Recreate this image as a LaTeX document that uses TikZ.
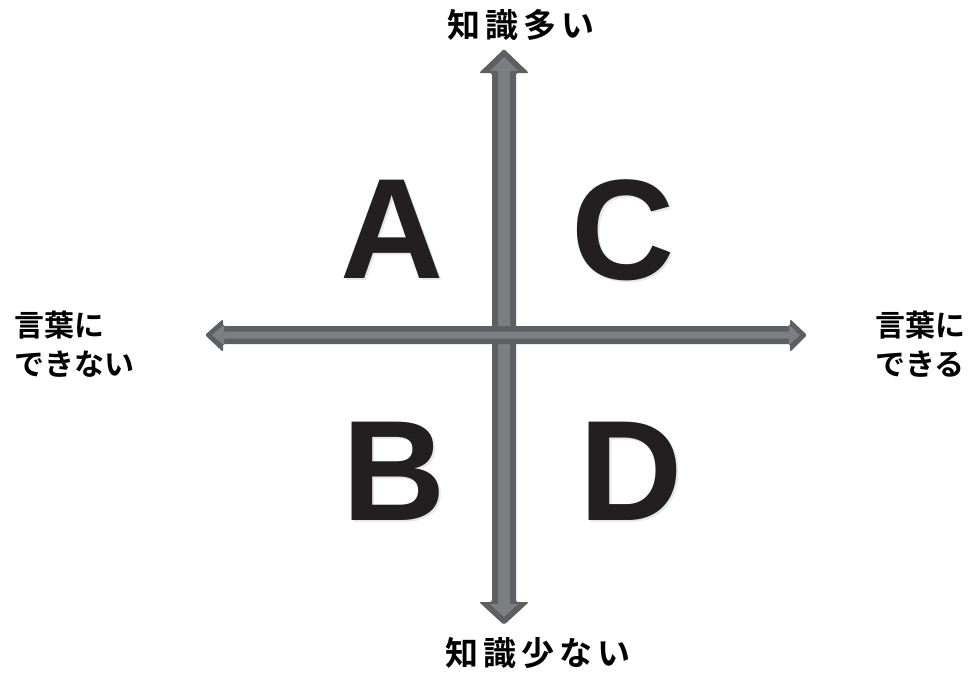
\documentclass[tikz,border=0pt]{standalone}
\usepackage{fontspec}
\newfontfamily\jp{Noto Sans CJK JP}[BoldFont={Noto Sans CJK JP Bold}]
\newfontfamily\lat{Liberation Sans}
\definecolor{arrdark}{HTML}{5E5F63}
\definecolor{arrlight}{HTML}{7D7E82}
\definecolor{letterc}{HTML}{231F20}
\newcommand{\jsp}{\hspace{5pt}}
\tikzset{
  axislabel/.style={font=\jp\bfseries\fontsize{33}{39}\selectfont, inner sep=0pt, text=black},
  sidelabel/.style={font=\jp\bfseries\fontsize{30}{39}\selectfont, inner sep=0pt, align=left, anchor=base west},
  quad/.style={font=\lat\bfseries\fontsize{143}{143}\selectfont, inner sep=0pt, anchor=base, text=letterc},
  quadshadow/.style={font=\lat\bfseries\fontsize{143}{143}\selectfont, inner sep=0pt, anchor=base, text=black!9},
  outer/.style={fill=arrdark, rounded corners=2pt},
  inner/.style={fill=arrlight}
}
\begin{document}
\begin{tikzpicture}[x=1pt,y=-1pt]
\useasboundingbox (0,0) rectangle (978,675);
% vertical arrow
\fill[outer] (504,49) -- (529,73) -- (516,73) -- (516,602) -- (529,602) -- (504,625)
  -- (479,602) -- (492,602) -- (492,73) -- (479,73) -- cycle;
\fill[inner] (504,57) -- (518,71) -- (510,71) -- (510,604) -- (518,604) -- (504,617)
  -- (490,604) -- (498,604) -- (498,71) -- (490,71) -- cycle;
% horizontal arrow
\fill[outer] (205,335) -- (223,319) -- (223,326) -- (790,326) -- (790,319) -- (807,335)
  -- (790,352) -- (790,344) -- (223,344) -- (223,352) -- cycle;
\fill[inner] (212,335) -- (224,325) -- (224,331.5) -- (789,331.5) -- (789,325) -- (800,335)
  -- (789,345) -- (789,338.5) -- (224,338.5) -- (224,345) -- cycle;
% letters
\foreach \n/\t/\x/\y in {A/A/392/278, C/C/623/279, B/B/394/520, D/D/631/520}{
  \node[quadshadow] (\n s) at (\x+2.5,\y+2.5) {\t};
  \node[quad] (\n) at (\x,\y) {\t};
}
% labels
\node[axislabel, anchor=base] (top) at (521,37) {知\jsp 識\jsp 多\jsp い};
\node[axislabel, anchor=base] (bottom) at (538,665) {知\jsp 識\jsp 少\jsp な\jsp い};
\node[sidelabel] (left) at (14,375) {言葉に\\できない};
\node[sidelabel] (right) at (875,375) {言葉に\\できる};
\end{tikzpicture}
\end{document}
